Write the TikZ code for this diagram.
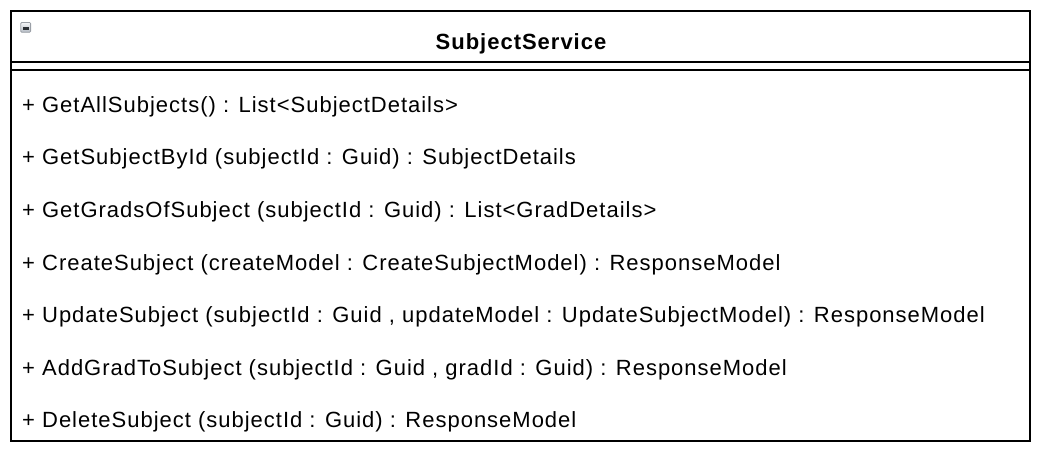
\documentclass[tikz,border=0pt]{standalone}
\usepackage{fontspec}
\setmainfont{Liberation Sans}
\newfontfamily\umlfont[LetterSpace=4.5]{Liberation Sans}
\usepackage{xcolor}
\usetikzlibrary{positioning}
\definecolor{umlline}{HTML}{000000}
\definecolor{icontop}{HTML}{F4F5F7}
\definecolor{iconbot}{HTML}{B4BAC3}
\definecolor{iconedge}{HTML}{9A9FA6}
\definecolor{iconbar}{HTML}{2A2E33}

\begin{document}
\begin{tikzpicture}[x=1pt, y=-1pt,
  op/.style={anchor=base west, inner sep=0pt, font=\umlfont\fontsize{22}{25}\selectfont},
  cls/.style={anchor=base, inner sep=0pt, font=\umlfont\fontsize{22}{25}\selectfont\bfseries},
  rule/.style={umlline, line width=2pt}
]
  \useasboundingbox (0,0) rectangle (1040,454);

  % Class frame
  \draw[rule] (11,11) rectangle (1030,441);
  \coordinate (secL1) at (11,62.5);
  \coordinate (secR1) at (1030,62.5);
  \coordinate (secL2) at (11,70.5);
  \coordinate (secR2) at (1030,70.5);
  \draw[rule] (secL1) -- (secR1);
  \draw[rule] (secL2) -- (secR2);

  % Collapse icon
  \shade[top color=icontop, bottom color=iconbot, draw=iconedge, line width=0.8pt,
    rounded corners=1pt] (20.8,22.5) rectangle (30.6,32.3);
  \fill[iconbar] (22.8,27) rectangle (28.6,29.6);

  % Class name
  \node[cls] (name) at (521,50) {SubjectService};

  % Operations
  \foreach \i/\sig in {
    1/{+ GetAllSubjects() : List<SubjectDetails>},
    2/{+ GetSubjectById (subjectId : Guid) : SubjectDetails},
    3/{+ GetGradsOfSubject (subjectId : Guid) : List<GradDetails>},
    4/{+ CreateSubject (createModel : CreateSubjectModel) : ResponseModel},
    5/{+ UpdateSubject (subjectId : Guid , updateModel : UpdateSubjectModel) : ResponseModel},
    6/{+ AddGradToSubject (subjectId : Guid , gradId : Guid) : ResponseModel},
    7/{+ DeleteSubject (subjectId : Guid) : ResponseModel}
  } {
    \node[op] (op\i) at (22, 60+52.5*\i) {\sig};
  }

\end{tikzpicture}
\end{document}
